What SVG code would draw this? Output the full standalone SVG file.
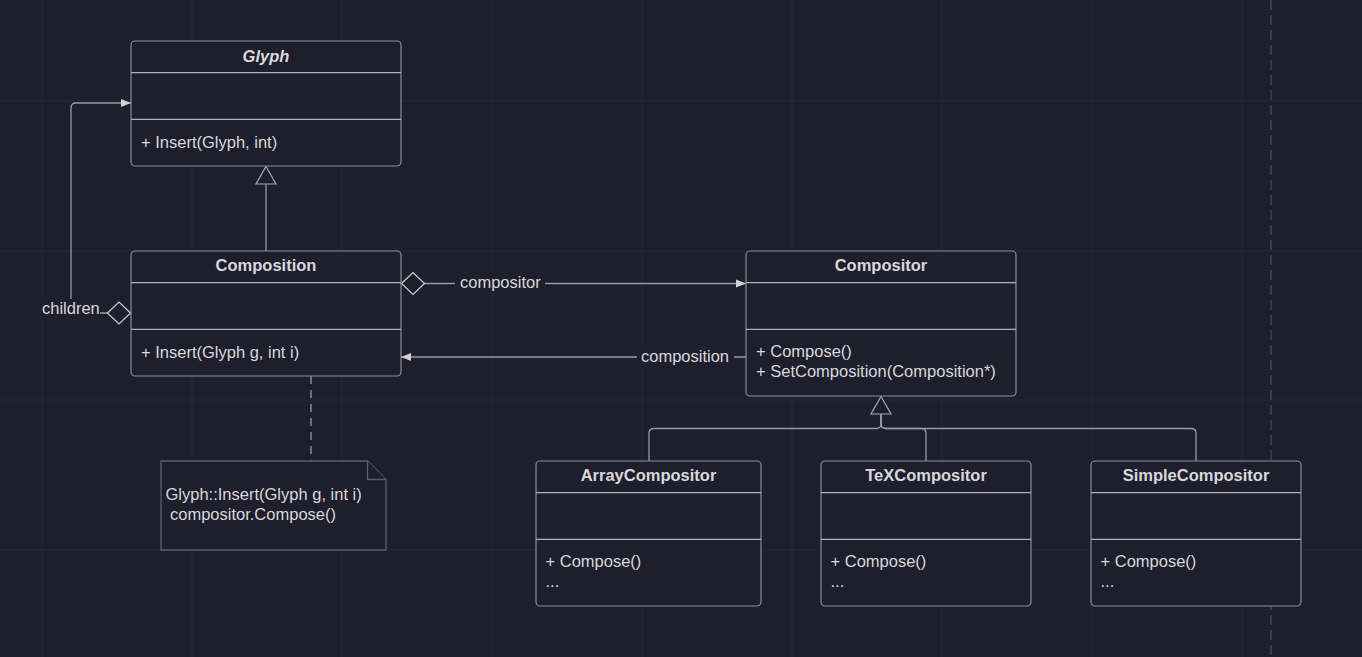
<svg xmlns="http://www.w3.org/2000/svg" width="1362" height="657" viewBox="0 0 1362 657">
<defs>
<style>
.bg{fill:#1e1e2c}
.grid{stroke:#272738;stroke-width:1}
.box{fill:#1e1e2c;stroke:#8e8e96;stroke-width:1.2}
.div{stroke:#b0b0b6;stroke-width:1.2}
.t{font-family:"Liberation Sans",Arial,sans-serif;font-size:16.5px;fill:#d8d8dc}
.title{font-weight:700;text-anchor:middle}
.conn{fill:none;stroke:#9a9aa2;stroke-width:1.3}
.lbl{fill:#1e1e2c}
.note{fill:#1e1e2c;stroke:#5e5e66;stroke-width:1.3}
.tri{fill:#1e1e2c;stroke:#a8a8b0;stroke-width:1.2}
.dia{fill:#1e1e2c;stroke:#d0d0d6;stroke-width:1.2}
</style>
<marker id="arr" viewBox="0 0 10 10" refX="10" refY="5" markerWidth="10" markerHeight="10" markerUnits="userSpaceOnUse" orient="auto">
<path d="M0,1 L10,5 L0,9 Z" fill="#d0d0d6"/>
</marker>
</defs>
<rect class="bg" x="0" y="0" width="1362" height="657"/>
<g id="grid">
<path class="grid" d="M42,0V657M192,0V657M342,0V657M492,0V657M642,0V657M792,0V657M942,0V657M1092,0V657M1242,0V657M0,101H1362M0,251H1362M0,400H1362M0,550H1362"/>
<path d="M1271,0V657" stroke="#3a3a44" stroke-width="2" stroke-dasharray="10,5"/>
</g>
<g id="connectors">
<path class="conn" d="M266,184V251"/>
<path class="tri" d="M266,166.5L276,184H256Z"/>
<path class="conn" d="M108,313H71V108Q71,103 76,103H131" marker-end="url(#arr)"/>
<path class="conn" d="M424,283.5H746" marker-end="url(#arr)"/>
<path class="conn" d="M746,357H401" marker-end="url(#arr)"/>
<path class="conn" d="M311,348V461" stroke-dasharray="8,6"/>
<path class="conn" d="M649,461V433Q649,428.5 654,428.5H876Q881,428.5 881,424V414"/>
<path class="conn" d="M926,461V433Q926,428.5 921,428.5H886Q881,428.5 881,424V414"/>
<path class="conn" d="M1196,461V433Q1196,428.5 1191,428.5H886Q881,428.5 881,424V414"/>
<path class="tri" d="M881,396.5L891,414H871Z"/>
<path class="dia" d="M401.5,283.5L413,272.5L424.5,283.5L413,294.5Z"/>
<path class="dia" d="M130.5,313L119,302L107.5,313L119,324Z"/>
<rect class="lbl" x="455" y="273" width="90" height="20"/>
<text class="t" x="460" y="288">compositor</text>
<rect class="lbl" x="637" y="347" width="97" height="20"/>
<text class="t" x="641" y="362">composition</text>
<rect class="lbl" x="40" y="299" width="60" height="20"/>
<text class="t" x="42" y="314">children</text>
</g>
<g id="glyph">
<rect class="box" x="131" y="41" width="270" height="125" rx="4"/>
<path class="div" d="M131,72.7H401M131,119.3H401"/>
<text class="t title" x="266" y="61.5" font-style="italic">Glyph</text>
<text class="t" x="141" y="147.5">+ Insert(Glyph, int)</text>
</g>
<g id="composition">
<rect class="box" x="131" y="251" width="270" height="125" rx="4"/>
<path class="div" d="M131,282.7H401M131,329.3H401"/>
<text class="t title" x="266" y="271">Composition</text>
<text class="t" x="141" y="357.5">+ Insert(Glyph g, int i)</text>
</g>
<g id="compositor">
<rect class="box" x="746" y="251" width="270" height="145" rx="4"/>
<path class="div" d="M746,282.7H1016M746,329.3H1016"/>
<text class="t title" x="881" y="271">Compositor</text>
<text class="t" x="756" y="357">+ Compose()</text>
<text class="t" x="756" y="376.5">+ SetComposition(Composition*)</text>
</g>
<g id="note">
<path class="note" d="M161,461H367.5L386,479.5V550H161Z"/>
<path class="note" d="M367.5,461V479.5H386"/>
<text class="t" x="165.5" y="500">Glyph::Insert(Glyph g, int i)</text>
<text class="t" x="170" y="519.5">compositor.Compose()</text>
</g>
<g id="arraycompositor">
<rect class="box" x="536" y="461" width="225" height="145" rx="4"/>
<path class="div" d="M536,492.7H761M536,539.3H761"/>
<text class="t title" x="648.5" y="481">ArrayCompositor</text>
<text class="t" x="545.5" y="566.5">+ Compose()</text>
<text class="t" x="545.5" y="587">...</text>
</g>
<g id="texcompositor">
<rect class="box" x="821" y="461" width="210" height="145" rx="4"/>
<path class="div" d="M821,492.7H1031M821,539.3H1031"/>
<text class="t title" x="926" y="481">TeXCompositor</text>
<text class="t" x="830.5" y="566.5">+ Compose()</text>
<text class="t" x="830.5" y="587">...</text>
</g>
<g id="simplecompositor">
<rect class="box" x="1091" y="461" width="210" height="145" rx="4"/>
<path class="div" d="M1091,492.7H1301M1091,539.3H1301"/>
<text class="t title" x="1196" y="481">SimpleCompositor</text>
<text class="t" x="1100.5" y="566.5">+ Compose()</text>
<text class="t" x="1100.5" y="587">...</text>
</g>
</svg>
